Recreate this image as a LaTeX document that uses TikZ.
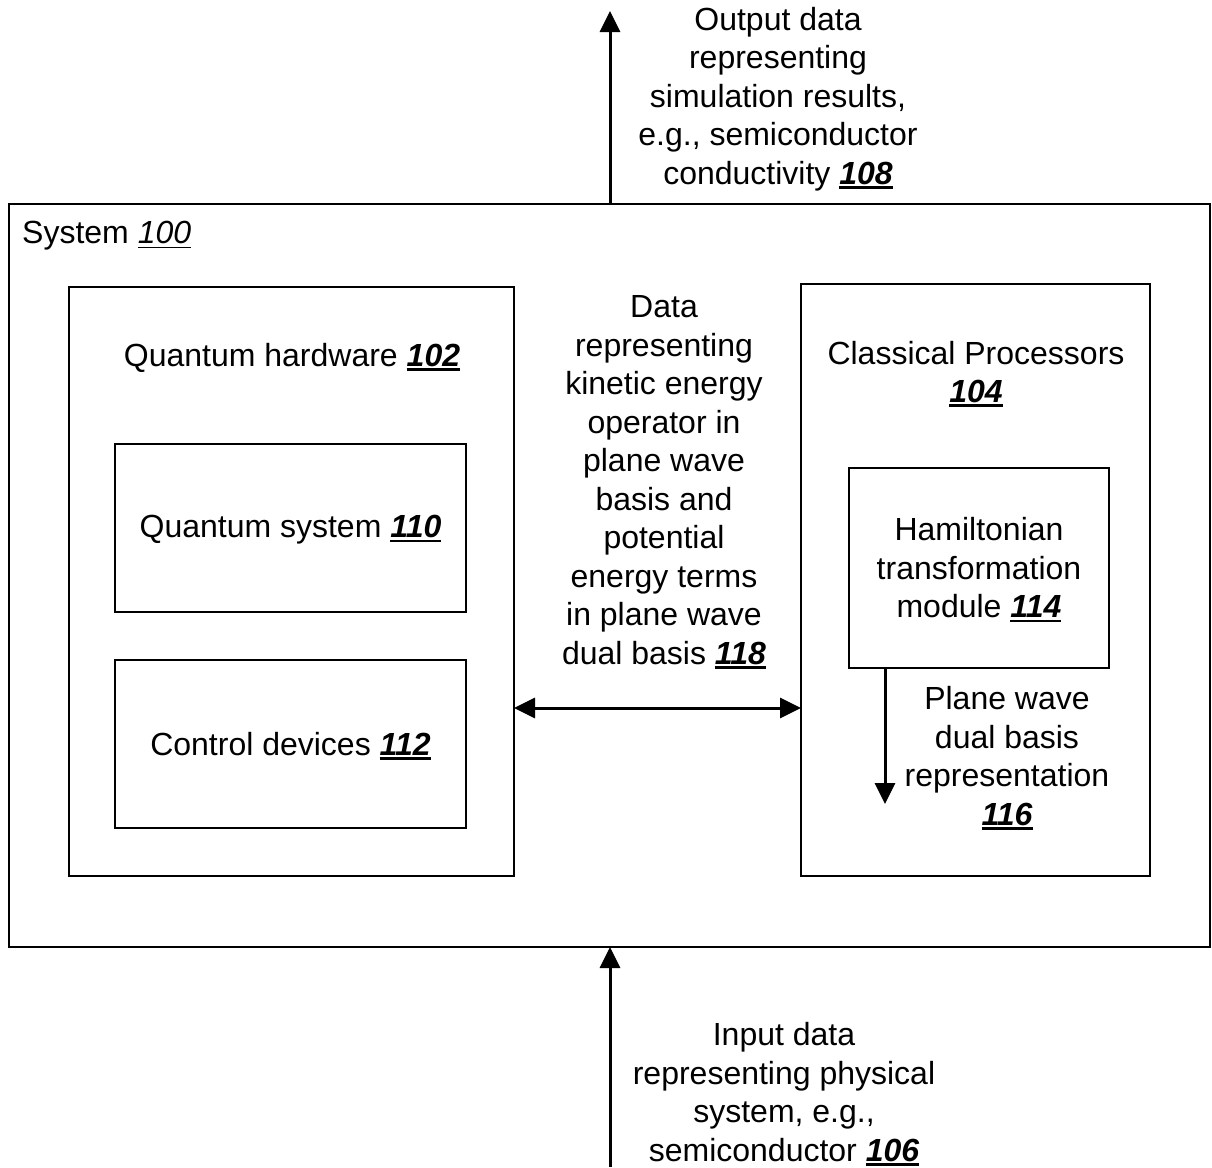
\documentclass[tikz,border=0pt]{standalone}
\usepackage{fontspec}
\setmainfont{Liberation Sans}
\usetikzlibrary{arrows.meta}
\newcommand\rn[1]{\setbox0\hbox{\bfseries\itshape #1}\rlap{\rule[-4.5pt]{\wd0}{2.6pt}}\box0}
\newcommand\rni[1]{\setbox0\hbox{\itshape #1}\rlap{\rule[-4.5pt]{\wd0}{1.8pt}}\box0}
\begin{document}
\begin{tikzpicture}[x=1pt,y=-1pt,
  box/.style={draw,line width=2.4pt},
  txt/.style={align=center,inner sep=0pt,font=\fontsize{32}{38.5}\selectfont},
  arr/.style={line width=3pt,-{Triangle[length=21pt,width=20pt]}},
  darr/.style={line width=3pt,{Triangle[length=21pt,width=20pt]}-{Triangle[length=21pt,width=20pt]}}]
\useasboundingbox (0,0) rectangle (1212,1167);
% boxes
\draw[box] (9,204) rectangle (1210,947);
\node[txt,anchor=west] (sys) at (22,236) {System \rni{100}};
\draw[box] (69,287) rectangle (514,876);
\coordinate (qhL) at (514,708);
\node[txt] (qh) at (292,358) {Quantum hardware \rn{102}};
\draw[box] (115,444) rectangle (466,612);
\node[txt] (qs) at (290.5,530) {Quantum system \rn{110}};
\draw[box] (115,660) rectangle (466,828);
\node[txt] (cd) at (290.5,746) {Control devices \rn{112}};
\draw[box] (801,284) rectangle (1150,876);
\coordinate (cpL) at (801,708);
\node[txt] (cp) at (976,374) {Classical Processors\\\rn{104}};
\draw[box] (849,468) rectangle (1109,668);
\coordinate (hb) at (885,668);
\coordinate (hbe) at (885,804);
\node[txt] (ham) at (979,570) {Hamiltonian\\transformation\\module \rn{114}};
% middle label
\node[txt] (mid) at (664,482) {Data\\representing\\kinetic energy\\operator in\\plane wave\\basis and\\potential\\energy terms\\in plane wave\\dual basis \rn{118}};
\draw[darr] (qhL) -- (cpL);
% plane wave
\draw[arr] (hb) -- (hbe);
\node[txt] (pw) at (1007,758) {Plane wave\\dual basis\\representation\\\rn{116}};
% output
\coordinate (outS) at (610,204);
\coordinate (outE) at (610,11);
\draw[arr] (outS) -- (outE);
\node[txt] (out) at (778,99) {Output data\\representing\\simulation results,\\e.g., semiconductor\\conductivity \rn{108}};
% input
\coordinate (inS) at (610,1167);
\coordinate (inE) at (610,947);
\draw[arr] (inS) -- (inE);
\node[txt] (in) at (784,1094) {Input data\\representing physical\\system, e.g.,\\semiconductor \rn{106}};
\end{tikzpicture}
\end{document}
